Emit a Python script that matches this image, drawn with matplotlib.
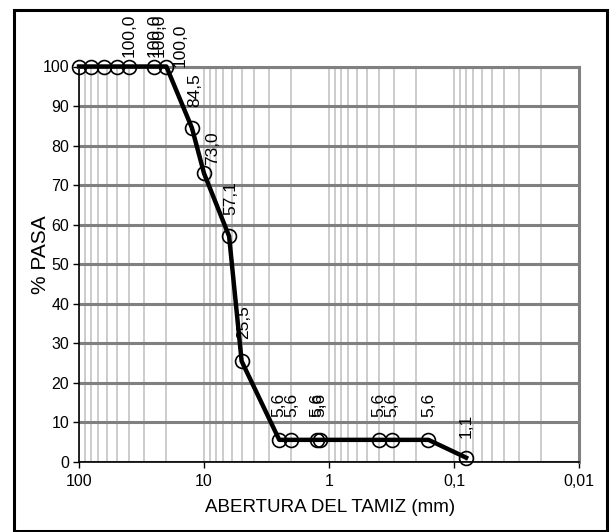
import matplotlib
matplotlib.use("Agg")
import matplotlib.pyplot as plt
from matplotlib.patches import Rectangle
from matplotlib.ticker import FixedLocator, LogLocator, NullFormatter

plt.rcParams['font.family'] = ['Liberation Sans Narrow', 'Liberation Sans', 'DejaVu Sans']

# abertura del tamiz (mm) y % que pasa
abertura = [100, 80, 63, 50, 40, 25, 20, 12.5, 10, 6.3, 5,
            2.5, 2, 1.25, 1.18, 0.4, 0.315, 0.16, 0.08]
pasa = [100.0, 100.0, 100.0, 100.0, 100.0, 100.0, 100.0, 84.5, 73.0, 57.1, 25.5,
        5.6, 5.6, 5.6, 5.6, 5.6, 5.6, 5.6, 1.1]

x_ticks = [100, 10, 1, 0.1, 0.01]
x_tick_labels = ['100', '10', '1', '0,1', '0,01']
y_ticks = [0, 10, 20, 30, 40, 50, 60, 70, 80, 90, 100]

# label offsets in pixels (center of rotated label), None = no label
label_off = {0: None, 1: None, 2: None, 3: (12, 31), 4: (25, 31), 5: (5, 31), 6: (14, 21),
             7: (3, 38), 8: (9, 25), 9: (2, 38), 10: (2, 39), 18: (0, 32)}

fig = plt.figure(figsize=(6.13, 5.32), dpi=100)
ax = fig.add_axes([79 / 613, 1 - 462 / 532, 500 / 613, 395.5 / 532])

ax.set_xscale('log')
ax.set_xlim(100, 0.01)
ax.set_ylim(0, 100)

ax.xaxis.set_major_locator(FixedLocator(x_ticks))
ax.set_xticklabels(x_tick_labels)
ax.xaxis.set_minor_locator(LogLocator(base=10, subs=range(2, 10), numticks=20))
ax.xaxis.set_minor_formatter(NullFormatter())
ax.set_yticks(y_ticks)

ax.grid(True, axis='x', which='both', color='#c8c8c8', lw=1.3, zorder=0)
ax.grid(True, axis='y', which='major', color='#808080', lw=2.2, zorder=0)
ax.set_axisbelow(True)

ax.tick_params(axis='x', which='minor', length=0)
ax.tick_params(axis='both', which='major', length=4, width=1, direction='out',
               labelsize=11.5, colors='black')
ax.tick_params(axis='x', which='major', pad=5)
ax.tick_params(axis='y', which='major', pad=3)

for s in ['top', 'right']:
    ax.spines[s].set_color('#808080')
    ax.spines[s].set_linewidth(2.2)
for s in ['left', 'bottom']:
    ax.spines[s].set_color('black')
    ax.spines[s].set_linewidth(1.2)

ax.plot(abertura, pasa, color='black', lw=3.2, marker='o', ms=10,
        mfc='none', mec='black', mew=1.2, clip_on=False, zorder=3)

for i, (xv, yv) in enumerate(zip(abertura, pasa)):
    off = label_off.get(i, (0, 35))
    if off is None:
        continue
    ax.annotate(f"{yv:.1f}".replace('.', ','), (xv, yv), xytext=off,
                textcoords='offset pixels', rotation=90, ha='center', va='center',
                fontsize=12.5, annotation_clip=False)

ax.set_xlabel('ABERTURA DEL TAMIZ (mm)', fontsize=13.5)
ax.set_ylabel('% PASA', fontsize=15)
ax.xaxis.set_label_coords(0.502, -0.114)
ax.yaxis.set_label_coords(-0.078, 0.523)
ax.xaxis.label.set_va('center')
ax.yaxis.label.set_va('center')

fig.patches.append(Rectangle((14 / 613, 1 / 532), 593 / 613, 521 / 532,
                             transform=fig.transFigure, fill=False,
                             edgecolor='black', lw=2.2))

fig.savefig('out.png', dpi=100)
